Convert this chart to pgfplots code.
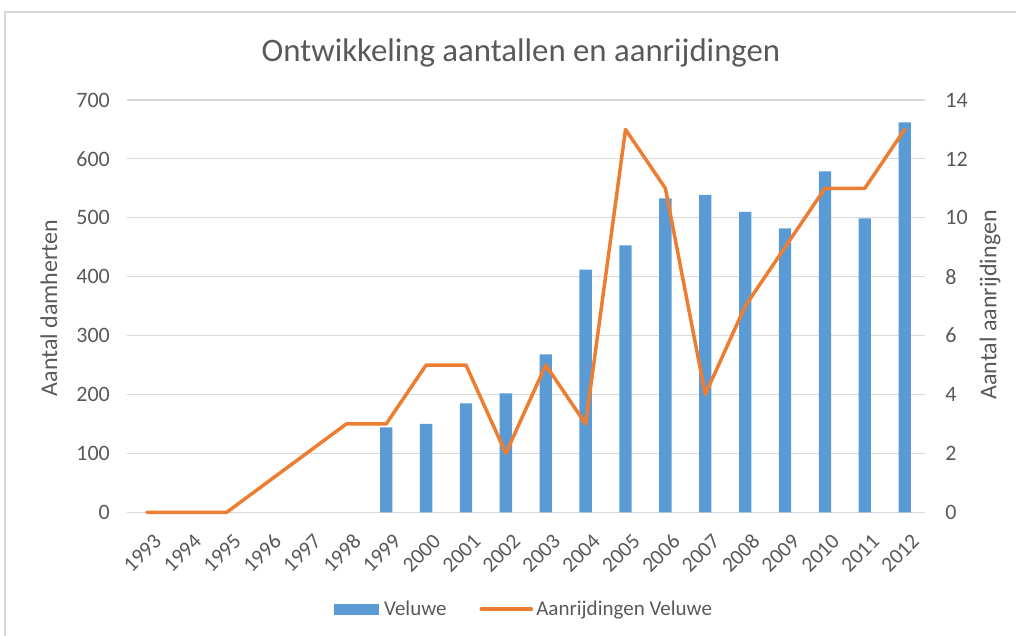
\documentclass[border=0pt]{standalone}
\usepackage{pgfplots}
\pgfplotsset{compat=1.18}
\usepackage{fontspec}
\setmainfont{Carlito}
\definecolor{barblue}{HTML}{5B9BD5}
\definecolor{lineorange}{HTML}{ED7D31}
\definecolor{txt}{HTML}{595959}
\definecolor{gridc}{HTML}{D9D9D9}
\begin{document}
\begin{tikzpicture}[x=1pt,y=1pt]
\path[use as bounding box] (0,0) rectangle (1016,636);
\draw[gridc, line width=1.2pt] (5,0) -- (5,624) -- (1016,624);
\node[txt, font=\fontsize{32.8}{38}\selectfont] at (521,583) {Ontwikkeling aantallen en aanrijdingen};
\node[txt, rotate=90, font=\fontsize{24}{28}\selectfont] at (49,328) {Aantal damherten};
\node[txt, rotate=90, font=\fontsize{24}{28}\selectfont] at (990,331) {Aantal aanrijdingen};
\pgfplotsset{every axis/.append style={
  scale only axis, width=797.6pt, height=412.3pt,
  xmin=-0.5, xmax=19.5,
  at={(127pt,123.7pt)}, anchor=south west,
  major tick length=0pt,
  /pgf/number format/assume math mode=true,
  tick label style={font=\fontsize{22}{26}\selectfont, text=txt},
  axis line style={draw=none},
}}
\begin{axis}[
  ymin=0, ymax=700, ytick={0,100,...,700},
  ymajorgrids, grid style={gridc, line width=1.2pt},
  xtick={0,...,19},
  xticklabels={1993,1994,1995,1996,1997,1998,1999,2000,2001,2002,2003,2004,2005,2006,2007,2008,2009,2010,2011,2012},
  xticklabel style={font=\fontsize{21.5}{26}\selectfont, xshift=11pt, yshift=-25.5pt, rotate=45, anchor=east, inner sep=0pt},
  yticklabel style={anchor=east, inner sep=0pt, xshift=-17pt},
]
\addplot[ybar, bar width=12.3pt, fill=barblue, draw=none] coordinates {
(6,144) (7,150) (8,185) (9,202) (10,268) (11,412) (12,453) (13,533)
(14,539) (15,510) (16,482) (17,579) (18,499) (19,662)};
\end{axis}
\begin{axis}[
  ymin=0, ymax=14, ytick={0,2,...,14},
  axis y line*=right, hide x axis, clip=false,
  yticklabel style={anchor=west, inner sep=0pt, xshift=20.6pt},
  legend style={at={(0.4977,-0.2345)}, anchor=center, draw=none, fill=none,
    legend columns=2, font=\fontsize{21}{25}\selectfont, text=txt,
    /tikz/every even column/.append style={column sep=31pt}},
]
\addlegendimage{legend image code/.code={\fill[barblue] (0pt,-5pt) rectangle (44pt,5pt); \path[draw=none,fill=none] (0pt,0pt) -- (48pt,0pt);}}
\addlegendentry{Veluwe}
\addplot[lineorange, line width=3.5pt, line join=round, line cap=round,
  legend image code/.code={\draw[lineorange, line width=3.5pt] (0pt,0pt) -- (50pt,0pt); \path[draw=none,fill=none] (0pt,0pt) -- (53pt,0pt);}] coordinates {
(0,0) (1,0) (2,0) (3,1) (4,2) (5,3) (6,3) (7,5) (8,5) (9,2) (10,5)
(11,3) (12,13) (13,11) (14,4) (15,7) (16,9) (17,11) (18,11) (19,13)};
\addlegendentry{Aanrijdingen Veluwe}
\end{axis}
\end{tikzpicture}
\end{document}
